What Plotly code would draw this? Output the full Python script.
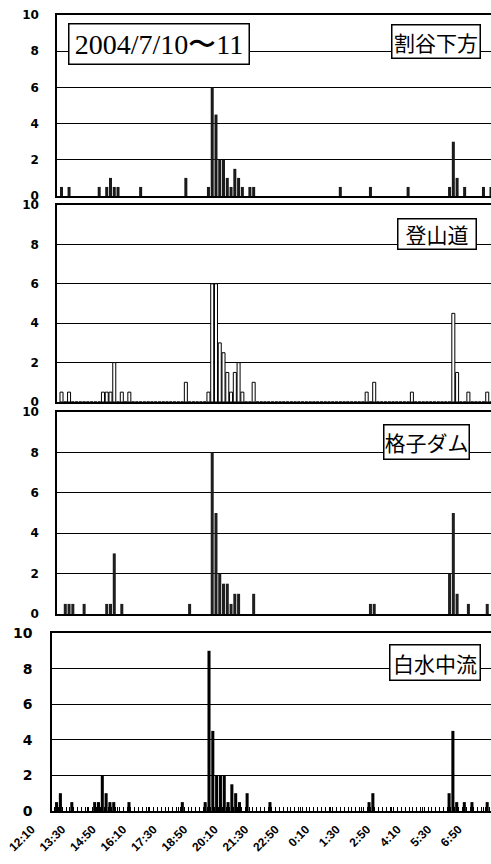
import plotly.graph_objects as go

# 10-minute categories, index 0 = 12:10 (day 1) ... index 114 = 7:10 (day 2)
n_slots = 115
tick_index = [0, 8, 16, 24, 32, 40, 48, 56, 64, 72, 80, 88, 96, 104, 112]
tick_labels = ["12:10", "13:30", "14:50", "16:10", "17:30", "18:50", "20:10", "21:30",
               "22:50", "0:10", "1:30", "2:50", "4:10", "5:30", "6:50"]

# values (index: value), all other slots are 0
waridani = {0: 0.5, 2: 0.5, 10: 0.5, 12: 0.5, 13: 1, 14: 0.5, 15: 0.5, 21: 0.5, 33: 1,
            39: 0.5, 40: 6, 41: 4.5, 42: 2, 43: 2, 44: 1, 45: 0.5, 46: 1.5, 47: 1, 48: 0.5,
            50: 0.5, 51: 0.5, 74: 0.5, 82: 0.5, 92: 0.5, 103: 0.5, 104: 3, 105: 1, 107: 0.5,
            112: 0.5, 114: 0.5}
tozando = {0: 0.5, 2: 0.5, 11: 0.5, 12: 0.5, 13: 0.5, 14: 2, 16: 0.5, 18: 0.5, 33: 1,
           39: 0.5, 40: 6, 41: 6, 42: 3, 43: 2.5, 44: 1.5, 45: 0.5, 46: 1.5, 47: 2, 48: 0.5,
           51: 1, 81: 0.5, 83: 1, 93: 0.5, 104: 4.5, 105: 1.5, 108: 0.5, 113: 0.5}
koshi_dam = {1: 0.5, 2: 0.5, 3: 0.5, 6: 0.5, 12: 0.5, 13: 0.5, 14: 3, 16: 0.5, 34: 0.5,
             40: 8, 41: 5, 42: 2, 43: 1.5, 44: 1.5, 45: 0.5, 46: 1, 47: 1, 51: 1,
             82: 0.5, 83: 0.5, 103: 2, 104: 5, 105: 1, 108: 0.5, 113: 0.5}
hakusui = {0: 0.5, 1: 1, 4: 0.5, 10: 0.5, 11: 0.5, 12: 2, 13: 1, 14: 0.5, 15: 0.5, 19: 0.5,
           33: 0.5, 39: 0.5, 40: 9, 41: 4.5, 42: 2, 43: 2, 44: 2, 45: 0.5, 46: 1.5, 47: 1,
           48: 0.5, 50: 1, 56: 0.5, 82: 0.5, 83: 1, 103: 1, 104: 4.5, 105: 0.5, 107: 0.5,
           109: 0.5, 113: 0.5}

panel_names = ["割谷下方", "登山道", "格子ダム", "白水中流"]
series = [waridani, tozando, koshi_dam, hakusui]

W, H = 491, 864
# panel geometry in pixels: (left, top, bottom)
geom = [(57, 15, 196), (57, 205, 402), (57, 412, 614), (52, 633, 811)]
bar_styles = [
    dict(color="#1a1a1a", line=dict(width=0)),
    dict(color="white", line=dict(color="black", width=1)),
    dict(color="#1f1f1f", line=dict(width=0)),
    dict(color="black", line=dict(width=0)),
]
label_boxes = [(436, 41.5, 90, 35), (437, 234, 80, 32), (426.5, 441.5, 87, 36), (434.5, 662, 92, 37)]

fig = go.Figure()
xs = list(range(n_slots))
for k, (name, d) in enumerate(zip(panel_names, series)):
    vals = [d.get(i, 0) for i in xs]
    ax = "" if k == 0 else str(k + 1)
    fig.add_trace(go.Bar(x=xs, y=vals, name=name, marker=bar_styles[k],
                         xaxis="x" + ax, yaxis="y" + ax, hoverinfo="x+y"))
    left, top, bottom = geom[k]
    last = k == 3
    xa = dict(domain=[left / W, 1], range=[-1.2, 114.0], showgrid=False, zeroline=False,
              showline=True, linecolor="black", linewidth=1.5, mirror=True,
              anchor="y" + ax, fixedrange=True, automargin=False)
    if last:
        xa.update(tickmode="array", tickvals=tick_index, ticktext=tick_labels,
                  tickangle=-45, ticks="inside", ticklen=4, tickcolor="black",
                  ticklabelshift=-25, ticklabelstandoff=5,
                  tickfont=dict(family="Liberation Sans", size=12, color="black", weight="bold"),
                  minor=dict(tickmode="linear", tick0=0.5, dtick=1, ticks="inside",
                             ticklen=4, tickcolor="black", showgrid=False))
    else:
        xa.update(showticklabels=False, ticks="")
    ya = dict(domain=[1 - bottom / H, 1 - top / H], range=[0, 10], tickmode="linear",
              tick0=0, dtick=2, showgrid=True, gridcolor="black", gridwidth=1,
              zeroline=False, showline=True, linecolor="black", linewidth=1.5,
              ticks="", ticklabelstandoff=(15 if last else 14), anchor="x" + ax,
              automargin=False,
              tickfont=dict(family="DejaVu Sans", size=(14 if last else 12),
                            color="black", weight="bold"), fixedrange=True)
    fig.update_layout(**{"xaxis" + ax: xa, "yaxis" + ax: ya})

    cx, cy, bw, bh = label_boxes[k]
    fig.add_annotation(x=cx / W, y=1 - cy / H, xref="paper", yref="paper",
                       xanchor="center", yanchor="middle", text=name, showarrow=False,
                       font=dict(family="Noto Sans CJK JP", size=21, color="black"),
                       bgcolor="white", bordercolor="black", borderwidth=1.5, borderpad=1,
                       width=bw - 5, height=bh - 5)

fig.add_annotation(x=159 / W, y=1 - 44 / H, xref="paper", yref="paper",
                   xanchor="center", yanchor="middle", text="2004/7/10〜11", showarrow=False,
                   font=dict(family="Liberation Serif", size=28, color="black"),
                   bgcolor="white", bordercolor="black", borderwidth=1.5, borderpad=1,
                   width=177, height=37)

fig.update_layout(width=W, height=H, margin=dict(l=0, r=0, t=0, b=0, autoexpand=False),
                  paper_bgcolor="white", plot_bgcolor="white", showlegend=False,
                  bargap=0.2)
fig.write_html("out.html")
